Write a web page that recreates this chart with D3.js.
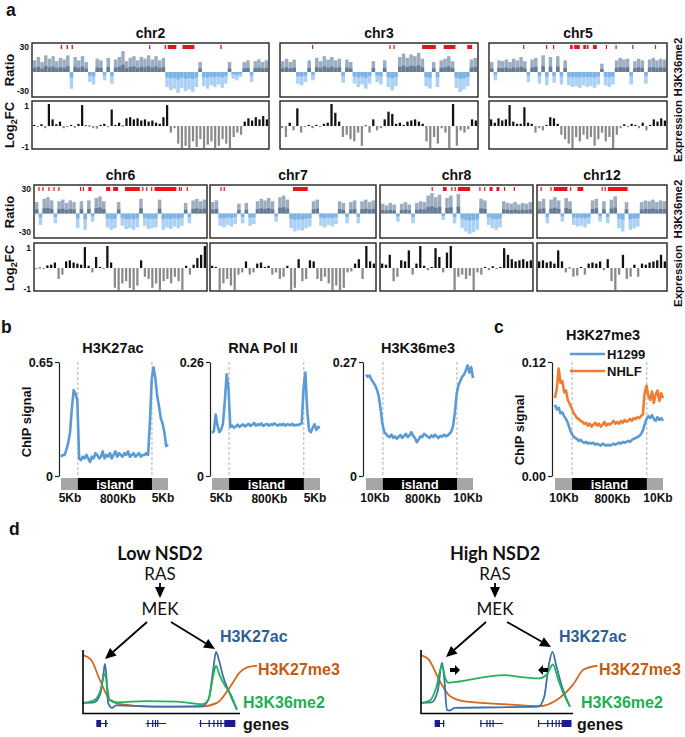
<!DOCTYPE html>
<html><head><meta charset="utf-8">
<script src="https://cdn.jsdelivr.net/npm/d3@7"></script>
<style>body{margin:0;background:#fff} svg{display:block}</style>
</head><body>
<svg id="fig" width="685" height="737"></svg>
<script>
// ---------------- DATA: panel a ----------------
const chromosomes = ["chr2","chr3","chr5","chr6","chr7","chr8","chr12"];
const ratioTicks = ["30","-30"];
const exprTicks = ["1","-1"];

const ratioChr2 = [14,18,12,20,16,19,13,17,15,20,-20,18,14,19,12,-12,-15,16,14,-10,17,-14,15,18,25,13,17,19,14,18,16,20,15,19,14,17,-18,-22,-20,-25,-19,-23,-21,-24,-18,12,-17,-20,-16,-18,-15,-19,-14,12,-8,-10,-6,12,14,-12,13,15,12,14];
const exprChr2 = [0.05,-0.05,0.08,-0.1,1.0,0.3,0.08,0.2,-0.1,-0.05,0.05,-0.08,0.1,0.95,0.03,0.02,-0.1,-0.12,0.05,0.1,-0.05,0.75,0.05,0.15,0.02,0.35,0.4,0.3,0.35,0.25,0.3,0.2,0.25,0.15,0.1,0.4,0.95,-0.3,-0.1,-0.8,-1,-0.9,-1,-0.7,-0.95,-0.6,-1,-0.85,-0.7,-1,-0.9,-0.6,-0.8,-1,-0.5,-0.3,-0.4,0.2,0.35,0.25,0.4,0.3,0.45,0.3];
const redChr2 = [[0.118,0.124],[0.143,0.149],[0.164,0.17],[0.494,0.499],[0.56,0.566],[0.573,0.61],[0.636,0.687],[0.797,0.803]];

const ratioChr3 = [13,16,12,15,-14,-16,-12,14,-10,17,13,19,15,18,14,16,-13,15,12,-14,-18,-15,-20,-14,13,-12,-15,14,-18,-22,-17,18,22,17,21,19,23,16,-17,-20,12,-18,14,16,19,13,-19,-24,-21,-17,15,17];
const exprChr3 = [-0.1,-0.5,0.15,-0.2,0.8,-0.3,-0.05,0.05,-0.1,0.05,-0.05,0.1,0.15,1.0,0.6,0.2,-0.5,-0.4,-0.6,-0.7,-0.3,-0.9,0.03,-0.3,0.3,-0.2,-0.1,0.3,0.65,0.55,0.1,0.15,0.05,0.2,0.25,0.3,0.2,0.1,-0.7,-1.0,-0.5,-0.8,-0.1,-0.3,-1.0,1.0,-0.9,-0.2,-0.3,-0.15,0.3,0.25];
const redChr3 = [[0.158,0.164],[0.553,0.558],[0.574,0.579],[0.72,0.79],[0.83,0.89],[0.95,0.975]];

const ratioChr5 = [12,-10,14,13,15,12,16,14,18,13,-12,15,17,-14,20,-16,18,-13,19,-15,14,-16,-18,-17,-19,-16,-18,-17,-19,-15,10,-16,-18,-15,14,17,15,16,-15,13,16,14,-14,15,17,14,16,15];
const exprChr5 = [0.3,0.15,0.35,0.25,0.3,0.95,0.2,0.1,0.1,0.85,0.15,0.1,-0.3,-0.1,-0.2,0.05,0.4,0.35,0.1,-0.4,-0.6,-0.8,-1.0,-0.5,-0.7,-0.4,-0.6,-0.5,-0.9,-0.6,-0.3,-0.7,-0.5,-1.0,-0.4,-0.1,0.08,-0.05,0.1,0.05,-0.1,0.15,-0.2,0.05,0.3,0.2,0.35,0.25];
const redChr5 = [[0.188,0.194],[0.318,0.324],[0.358,0.364],[0.455,0.47],[0.478,0.51],[0.53,0.545],[0.55,0.56],[0.585,0.607],[0.658,0.664],[0.713,0.719],[0.808,0.814],[0.937,0.943]];

const ratioChr6 = [14,-14,18,20,16,-12,15,17,13,16,14,-18,15,-20,16,-10,19,21,15,-17,-20,-18,14,-15,-19,-18,-20,-17,18,-15,-19,-18,-17,17,-20,-17,-19,-16,-18,-15,13,-12,16,18,15,17];
const exprChr6 = [-0.05,0.02,-0.05,0.12,0.15,0.25,-0.5,-0.3,0.3,0.35,0.25,0.2,0.15,0.95,0.1,-0.2,0.5,0.05,-0.05,1.0,0.25,-0.9,-1.0,-0.7,-0.6,-0.9,-1.0,-0.8,0.35,-0.4,-0.5,-0.9,-0.7,-1.0,-0.6,-0.5,-0.7,-0.4,-0.6,-1.0,0.1,-0.3,0.15,0.45,0.6,1.0];
const redChr6 = [[0.02,0.026],[0.043,0.049],[0.078,0.084],[0.108,0.114],[0.136,0.142],[0.263,0.269],[0.28,0.286],[0.312,0.33],[0.416,0.44],[0.457,0.486],[0.526,0.613],[0.627,0.633],[0.65,0.656],[0.679,0.685],[0.699,0.827],[0.841,0.847],[0.852,0.858],[0.887,0.893]];

const ratioChr7 = [14,16,-15,-17,-14,-16,-13,12,-12,13,-15,-13,15,18,16,19,15,-10,20,22,17,-18,-22,-20,-21,-18,-16,15,17,-15,-17,-14,-16,-13,15,13,-12,14,16,-12,15,17,14,16];
const exprChr7 = [0.1,0.05,-1.0,-0.7,-0.5,-0.8,-1.0,-0.3,-0.2,0.3,-0.3,-0.2,0.2,0.25,0.05,0.1,-0.3,-0.2,-0.5,-0.4,0.1,-1.0,-0.9,0.4,-0.6,-0.5,0.35,0.3,-0.5,-0.6,-0.4,-0.7,-1.0,-0.8,-1.0,-0.9,-0.2,-0.15,0.2,0.4,-0.5,1.0,0.3,0.2];
const redChr7 = [[0.057,0.063],[0.077,0.083],[0.5,0.59]];

const ratioChr8 = [12,10,13,11,-10,12,14,11,-12,13,15,14,22,25,20,23,-8,19,22,-12,24,-18,-22,-25,-23,-20,18,16,-14,-18,-20,-17,15,13,12,14,11,13,12,14];
const exprChr8 = [0.2,0.15,0.6,-0.6,-0.4,0.35,0.3,0.8,-0.3,0.2,1.0,0.1,-0.1,0.05,0.9,0.5,-0.2,0.7,1.0,-1.0,-0.4,-0.3,-0.5,-0.35,-1.0,-0.2,-0.3,0.05,-0.1,0.08,-0.05,0.05,0.9,0.6,0.4,0.3,0.35,0.4,0.3,0.35];
const redChr8 = [[0.335,0.341],[0.41,0.435],[0.465,0.471],[0.487,0.493],[0.51,0.59],[0.651,0.657],[0.683,0.689],[0.719,0.739],[0.765,0.784],[0.814,0.82],[0.879,0.885]];

const ratioChr12 = [15,18,-12,17,20,16,-10,19,15,-14,-16,-15,-17,-13,16,18,-10,15,-12,17,21,-18,-22,14,-20,-18,-16,14,16,15,17,14,16,15];
const exprChr12 = [0.3,0.35,0.25,0.3,0.2,0.8,0.3,-0.2,0.02,-0.4,-0.35,0.05,-0.3,0.2,0.25,0.2,0.3,-0.1,0.4,-0.6,-1.0,-0.3,0.6,-0.5,-0.4,0.15,-0.4,0.2,0.15,0.25,0.3,0.35,0.6,0.3];
const redChr12 = [[0.02,0.026],[0.097,0.103],[0.123,0.23],[0.251,0.257],[0.308,0.354],[0.497,0.503],[0.52,0.526],[0.546,0.7]];

// ---------------- DATA: panels b, c ----------------
const chipTitles = ["H3K27ac","RNA Pol II","H3K36me3","H3K27me3"];
const chipMax = [0.65, 0.26, 0.27, 0.12];
const chipTopLabels = ["0.65","0.26","0.27","0.12"];
const chipBottomLabels = ["0","0","0","0.00"];
const flankLabelsB1 = ["5Kb","800Kb","5Kb"];
const flankLabelsB3 = ["10Kb","800Kb","10Kb"];
const legendC = ["H1299","NHLF"];

const h3k27ac = [0.11,0.12,0.12,0.15,0.19,0.25,0.39,0.49,0.47,0.43,
  0.10,0.09,0.11,0.10,0.12,0.10,0.08,0.11,0.10,0.13,
  0.12,0.10,0.11,0.14,0.10,0.12,0.11,0.13,0.10,0.12,
  0.14,0.11,0.13,0.12,0.11,0.13,0.12,0.14,0.11,0.12,
  0.13,0.11,0.12,0.13,0.11,0.12,0.12,0.13,0.12,0.30,
  0.55,0.62,0.56,0.46,0.40,0.33,0.30,0.25,0.17,0.18];
const polII = [0.098,0.102,0.14,0.115,0.10,0.105,0.12,0.17,0.232,0.20,
  0.112,0.115,0.11,0.113,0.117,0.112,0.115,0.118,0.113,0.116,
  0.119,0.114,0.117,0.121,0.115,0.118,0.116,0.12,0.114,0.117,
  0.119,0.115,0.118,0.116,0.12,0.117,0.115,0.118,0.116,0.119,
  0.115,0.118,0.117,0.116,0.119,0.115,0.117,0.116,0.118,0.12,
  0.2,0.236,0.15,0.105,0.1,0.11,0.118,0.105,0.112,0.11];
const h3k36me3 = [0.24,0.235,0.238,0.228,0.222,0.215,0.205,0.19,0.16,0.125,
  0.105,0.1,0.095,0.092,0.098,0.09,0.094,0.088,0.093,0.097,
  0.09,0.095,0.1,0.092,0.096,0.104,0.095,0.09,0.08,0.086,
  0.094,0.092,0.1,0.097,0.093,0.09,0.096,0.092,0.098,0.094,
  0.09,0.095,0.093,0.098,0.094,0.096,0.1,0.105,0.118,0.15,
  0.195,0.215,0.225,0.235,0.24,0.25,0.262,0.245,0.258,0.232];
const h1299 = [0.075,0.07,0.072,0.066,0.067,0.063,0.06,0.056,0.05,0.045,
  0.042,0.04,0.039,0.037,0.038,0.036,0.035,0.036,0.034,0.035,
  0.034,0.035,0.033,0.034,0.033,0.032,0.034,0.033,0.032,0.033,
  0.032,0.033,0.034,0.033,0.034,0.035,0.034,0.036,0.035,0.036,
  0.037,0.036,0.038,0.039,0.04,0.041,0.042,0.044,0.048,0.054,
  0.06,0.063,0.061,0.064,0.06,0.058,0.062,0.059,0.061,0.058];
const nhlf = [0.082,0.092,0.113,0.098,0.1,0.088,0.09,0.08,0.076,0.072,
  0.067,0.064,0.061,0.06,0.058,0.057,0.055,0.056,0.053,0.055,
  0.052,0.054,0.056,0.053,0.055,0.052,0.054,0.057,0.053,0.055,
  0.054,0.056,0.058,0.055,0.057,0.055,0.058,0.056,0.059,0.057,
  0.058,0.06,0.058,0.061,0.06,0.062,0.061,0.063,0.065,0.088,
  0.095,0.084,0.08,0.089,0.077,0.086,0.09,0.079,0.087,0.082];
const islandSpan = [0.158, 0.85];

// ---------------- DATA: panel d (schematic) ----------------
const schemeTitles = ["Low NSD2","High NSD2"];
const lowK27me3 = [[0,0.92],[0.05,0.85],[0.108,0.52],[0.172,0.21],[0.24,0.14],[0.45,0.1],[0.745,0.1],[0.854,0.16],[0.936,0.41],[1.0,0.65],[1.05,0.73],[1.108,0.75]];
const lowK27ac = [[0,0.16],[0.07,0.17],[0.11,0.3],[0.13,0.62],[0.14,0.78],[0.15,0.55],[0.16,0.16],[0.185,0.08],[0.21,0.12],[0.5,0.1],[0.76,0.11],[0.8,0.22],[0.83,0.7],[0.847,0.97],[0.865,0.85],[0.89,0.6],[0.94,0.28],[0.98,0.05]];
const lowK36me2 = [[0,0.16],[0.07,0.2],[0.11,0.35],[0.14,0.62],[0.155,0.4],[0.17,0.2],[0.22,0.17],[0.4,0.19],[0.6,0.18],[0.76,0.14],[0.8,0.22],[0.83,0.6],[0.847,0.75],[0.87,0.6],[0.9,0.45],[0.94,0.3],[0.98,0.06]];
const highK27me3 = [[0,0.92],[0.05,0.85],[0.125,0.5],[0.19,0.27],[0.3,0.18],[0.55,0.14],[0.78,0.11],[0.9,0.22],[1.0,0.45],[1.07,0.69],[1.16,0.75]];
const highK27ac = [[0,0.16],[0.07,0.17],[0.11,0.35],[0.138,0.8],[0.155,0.5],[0.17,0.05],[0.19,0.04],[0.22,0.08],[0.5,0.09],[0.77,0.1],[0.81,0.25],[0.84,0.75],[0.865,0.97],[0.89,0.75],[0.93,0.4],[0.98,0.1]];
const highK36me2 = [[0,0.16],[0.06,0.2],[0.1,0.4],[0.138,0.75],[0.16,0.55],[0.18,0.48],[0.25,0.5],[0.45,0.58],[0.55,0.6],[0.7,0.56],[0.78,0.55],[0.83,0.62],[0.868,0.77],[0.9,0.55],[0.93,0.35],[0.98,0.1]];
const lowIntrons = [[0.085,0.16],[0.4,0.53],[0.74,0.97]];
const lowExons = [[0.085,0.115],[0.14,0.15],[0.41,0.416],[0.44,0.448],[0.458,0.464],[0.472,0.478],[0.745,0.752],[0.8,0.808],[0.83,0.836],[0.855,0.862],[0.875,0.882],[0.9,0.97]];
const highIntrons = [[0.09,0.155],[0.39,0.54],[0.77,0.99]];
const highExons = [[0.09,0.125],[0.145,0.152],[0.39,0.396],[0.43,0.437],[0.45,0.456],[0.47,0.476],[0.77,0.777],[0.83,0.838],[0.86,0.866],[0.885,0.892],[0.905,0.912],[0.925,0.99]];

// ---------------- DRAWING ----------------
const svg = d3.select("#fig");
const F = "'Liberation Sans', Arial, Helvetica, sans-serif";
const FC = "Lato, 'Open Sans', sans-serif";

function txt(g, t, x, y, o = {}) {
  const e = g.append("text").attr("x", x).attr("y", y).text(t)
    .attr("font-family", o.family || F).attr("font-size", o.size || 12)
    .attr("font-weight", o.weight || "bold").attr("fill", o.fill || "#111")
    .attr("text-anchor", o.anchor || "start");
  if (o.rotate) e.attr("transform", `rotate(${o.rotate},${x},${y})`);
  return e;
}

// panel letters
[["a",6,16],["b",1,333],["c",494,333],["d",9,535]].forEach(([t,x,y]) =>
  txt(svg, t, x, y, {size: 17.5}));

// ----- panel a -----
const rows = [
  {rTop: 43, rBot: 97, eTop: 101, eBot: 149, titleY: 38, labX: 14, rLab: 70, eLab: 125, rRight: 67, eRight: 131},
  {rTop: 185, rBot: 238, eTop: 243, eBot: 291, titleY: 180, labX: 14, rLab: 212, eLab: 268, rRight: 209, eRight: 276}
];
const chromData = {
  chr2: [ratioChr2, exprChr2, redChr2], chr3: [ratioChr3, exprChr3, redChr3],
  chr5: [ratioChr5, exprChr5, redChr5], chr6: [ratioChr6, exprChr6, redChr6],
  chr7: [ratioChr7, exprChr7, redChr7], chr8: [ratioChr8, exprChr8, redChr8],
  chr12: [ratioChr12, exprChr12, redChr12]
};
const chromLayout = [
  {chr: "chr2", row: 0, x0: 32, x1: 269},
  {chr: "chr3", row: 0, x0: 280, x1: 478},
  {chr: "chr5", row: 0, x0: 489, x1: 667},
  {chr: "chr6", row: 1, x0: 34, x1: 207},
  {chr: "chr7", row: 1, x0: 210, x1: 376},
  {chr: "chr8", row: 1, x0: 380, x1: 533},
  {chr: "chr12", row: 1, x0: 537, x1: 667}
];
const gA = svg.append("g");
chromLayout.forEach((c, ci) => {
  const r = rows[c.row];
  const [ratio, expr, red] = chromData[c.chr];
  const xb = d3.scaleBand().domain(d3.range(ratio.length)).range([c.x0 + 1, c.x1 - 1]).paddingInner(0.06);
  const xe = d3.scaleBand().domain(d3.range(expr.length)).range([c.x0 + 1, c.x1 - 1]).paddingInner(0.4);
  const xf = d3.scaleLinear().domain([0, 1]).range([c.x0 + 1, c.x1 - 1]);
  const yR = d3.scaleLinear().domain([-30, 30]).range([r.rBot, r.rTop + 4]);
  const yE = d3.scaleLinear().domain([-1, 1]).range([r.eBot - 1, r.eTop + 3]);
  const g = gA.append("g");
  // ratio bars
  g.selectAll(".rb").data(ratio).join("rect")
    .attr("x", (d, i) => xb(i)).attr("width", xb.bandwidth())
    .attr("y", d => d > 0 ? yR(d) : yR(0)).attr("height", d => Math.abs(yR(d) - yR(0)))
    .attr("fill", d => d > 0 ? "#9cadc0" : "#abd1f4");
  g.selectAll(".rd").data(ratio).join("rect")
    .attr("x", (d, i) => xb(i)).attr("width", xb.bandwidth())
    .attr("y", d => d > 0 ? yR(d * 0.35) : yR(0)).attr("height", d => Math.abs(yR(d * 0.35) - yR(0)))
    .attr("fill", d => d > 0 ? "#667c94" : "#7cb3e4");
  // red marks
  g.selectAll(".red").data(red).join("rect")
    .attr("x", d => xf(d[0])).attr("width", d => Math.max(1.2, xf(d[1]) - xf(d[0])))
    .attr("y", r.rTop + 2).attr("height", 4).attr("fill", "#e8141c");
  // expression bars
  g.selectAll(".eb").data(expr).join("rect")
    .attr("x", (d, i) => xe(i)).attr("width", xe.bandwidth())
    .attr("y", d => d > 0 ? yE(d) : yE(0)).attr("height", d => Math.max(0.8, Math.abs(yE(d) - yE(0))))
    .attr("fill", d => d > 0 ? "#111" : "#8a8a8a");
  // boxes
  g.append("rect").attr("x", c.x0).attr("y", r.rTop).attr("width", c.x1 - c.x0).attr("height", r.rBot - r.rTop)
    .attr("fill", "none").attr("stroke", "#222").attr("stroke-width", 1.4);
  g.append("rect").attr("x", c.x0).attr("y", r.eTop).attr("width", c.x1 - c.x0).attr("height", r.eBot - r.eTop)
    .attr("fill", "none").attr("stroke", "#222").attr("stroke-width", 1.4);
  txt(g, c.chr, (c.x0 + c.x1) / 2, r.titleY, {size: 14, anchor: "middle"});
  if (c.x0 < 40) {
    txt(g, ratioTicks[0], c.x0 - 3, r.rTop + 7, {size: 8.5, anchor: "end"});
    txt(g, ratioTicks[1], c.x0 - 3, r.rBot - 3, {size: 8.5, anchor: "end"});
    txt(g, exprTicks[0], c.x0 - 3, r.eTop + 8, {size: 8.5, anchor: "end"});
    txt(g, exprTicks[1], c.x0 - 3, r.eBot + 1, {size: 8.5, anchor: "end"});
    txt(g, "Ratio", r.labX, r.rLab, {size: 13, anchor: "middle", rotate: -90});
    const lg = txt(g, "Log", r.labX, r.eLab, {size: 13, anchor: "middle", rotate: -90});
    lg.append("tspan").text("2").attr("font-size", 9).attr("dy", 3);
    lg.append("tspan").text("FC").attr("dy", -3);
  }
  if (c.x1 > 660) {
    txt(g, "H3K36me2", 682, r.rRight, {size: 11.5, anchor: "middle", rotate: -90});
    txt(g, "Expression", 682, r.eRight, {size: 11.5, anchor: "middle", rotate: -90});
  }
});

// ----- panels b & c -----
const chipLayout = [
  {axisX: 59, pl: 61, pr: 168, titleX: 113, series: [[h3k27ac, "#5b9bd5"]], flank: flankLabelsB1},
  {axisX: 210, pl: 212, pr: 320, titleX: 263, series: [[polII, "#5b9bd5"]], flank: flankLabelsB1},
  {axisX: 363, pl: 366, pr: 473, titleX: 418, series: [[h3k36me3, "#5b9bd5"]], flank: flankLabelsB3},
  {axisX: 552, pl: 555, pr: 663, titleX: 603, series: [[nhlf, "#ed7d31"], [h1299, "#5b9bd5"]], flank: flankLabelsB3}
];
const yT = 362, yB = 476;
chipLayout.forEach((p, pi) => {
  const g = svg.append("g");
  const y = d3.scaleLinear().domain([0, chipMax[pi]]).range([yB, yT]);
  const xf = d3.scaleLinear().domain([0, 1]).range([p.pl, p.pr]);
  const ax = g.append("g").attr("transform", `translate(${p.axisX},0)`)
    .call(d3.axisLeft(y).tickValues([0, chipMax[pi]]).tickSize(4).tickSizeOuter(0)
      .tickFormat((d, i) => i === 0 ? chipBottomLabels[pi] : chipTopLabels[pi]));
  ax.select(".domain").attr("stroke", "#222").attr("stroke-width", 1.2);
  ax.selectAll(".tick line").attr("stroke", "#222").attr("stroke-width", 1.2);
  ax.selectAll(".tick text").attr("font-family", F).attr("font-weight", "bold").attr("font-size", 12.5).attr("fill", "#111").attr("x", -6);
  // dashed island boundaries
  islandSpan.forEach(f => g.append("line").attr("x1", xf(f)).attr("x2", xf(f)).attr("y1", yT).attr("y2", yB)
    .attr("stroke", "#9a9a9a").attr("stroke-width", 0.8).attr("stroke-dasharray", "3,2"));
  // lines
  p.series.forEach(([vals, col]) => {
    const x = d3.scaleLinear().domain([0, vals.length - 1]).range([p.pl, p.pr]);
    g.append("path").datum(vals)
      .attr("d", d3.line().x((d, i) => x(i)).y(d => y(d)))
      .attr("fill", "none").attr("stroke", col).attr("stroke-width", 2.6).attr("stroke-linejoin", "round");
  });
  // bar
  g.append("rect").attr("x", p.pl).attr("y", 478).attr("width", p.pr - p.pl).attr("height", 12).attr("fill", "#a6a6a6");
  g.append("rect").attr("x", xf(islandSpan[0])).attr("y", 478).attr("width", xf(islandSpan[1]) - xf(islandSpan[0])).attr("height", 12).attr("fill", "#000");
  txt(g, "island", (xf(islandSpan[0]) + xf(islandSpan[1])) / 2, 488.5, {size: 13, anchor: "middle", fill: "#fff"});
  txt(g, p.flank[0], p.pl + 9, 502, {size: 12, anchor: "middle"});
  txt(g, p.flank[1], (xf(islandSpan[0]) + xf(islandSpan[1])) / 2 + 3, 503, {size: 12, anchor: "middle"});
  txt(g, p.flank[2], p.pr - 5, 502, {size: 12, anchor: "middle"});
  txt(g, chipTitles[pi], p.titleX, pi === 3 ? 340 : 353, {size: 14.5, anchor: "middle"});
});
txt(svg, "ChIP signal", 31, 422, {size: 13, anchor: "middle", rotate: -90});
txt(svg, "ChIP signal", 524, 430, {size: 13, anchor: "middle", rotate: -90});
// legend c
[["#5b9bd5", 354], ["#ed7d31", 371]].forEach(([col, ly], i) => {
  svg.append("line").attr("x1", 570).attr("x2", 605).attr("y1", ly).attr("y2", ly).attr("stroke", col).attr("stroke-width", 2.6);
  txt(svg, legendC[i], 607, ly + 4.5, {size: 13});
});

// ----- panel d -----
function arrow(g, x1, y1, x2, y2) {
  const a = Math.atan2(y2 - y1, x2 - x1), L = 11, W = 5;
  const bx = x2 - L * Math.cos(a), by = y2 - L * Math.sin(a);
  g.append("line").attr("x1", x1).attr("y1", y1).attr("x2", bx).attr("y2", by).attr("stroke", "#000").attr("stroke-width", 1.8);
  g.append("path").attr("d", `M${x2},${y2}L${bx + W * Math.sin(a)},${by - W * Math.cos(a)}L${bx - W * Math.sin(a)},${by + W * Math.cos(a)}Z`).attr("fill", "#000");
}
const schemes = [
  {x0: 83, x1: 240, cx: 160, curves: [lowK27me3, lowK27ac, lowK36me2], introns: lowIntrons, exons: lowExons,
   arrows: [[147, 622, 105, 659], [171, 622, 215, 649]], labK27ac: 220, labK27me3: 258, labK36me2: 243, labGenes: 243, fat: false},
  {x0: 421, x1: 573, cx: 495, curves: [highK27me3, highK27ac, highK36me2], introns: highIntrons, exons: highExons,
   arrows: [[486, 622, 446, 657], [507, 622, 551, 647]], labK27ac: 559, labK27me3: 599, labK36me2: 581, labGenes: 577, fat: true}
];
const curveCols = ["#d2691e", "#3f6fa8", "#22b35a"];
schemes.forEach((s, si) => {
  const g = svg.append("g");
  const x = d3.scaleLinear().domain([0, 1]).range([s.x0, s.x1]);
  const y = d3.scaleLinear().domain([0, 1]).range([713, 650]);
  txt(g, schemeTitles[si], s.cx, 560, {size: 18, anchor: "middle", family: FC});
  txt(g, "RAS", s.cx, 580, {size: 17, anchor: "middle", family: FC, weight: "normal"});
  arrow(g, s.cx, 583, s.cx, 598);
  txt(g, "MEK", s.cx, 615, {size: 17, anchor: "middle", family: FC, weight: "normal"});
  s.arrows.forEach(a => arrow(g, ...a));
  s.curves.forEach((pts, ci) => {
    g.append("path").datum(pts)
      .attr("d", d3.line().x(d => x(d[0])).y(d => y(d[1])).curve(d3.curveMonotoneX))
      .attr("fill", "none").attr("stroke", curveCols[ci]).attr("stroke-width", 1.8);
  });
  g.append("path").attr("d", `M${s.x0},650V${713.5}H${s.x1}`).attr("fill", "none").attr("stroke", "#000").attr("stroke-width", 1.6);
  // genes
  s.introns.forEach(d => g.append("line").attr("x1", x(d[0])).attr("x2", x(d[1])).attr("y1", 723.5).attr("y2", 723.5).attr("stroke", "#1b1b8e").attr("stroke-width", 1));
  s.exons.forEach(d => g.append("rect").attr("x", x(d[0])).attr("width", Math.max(1.2, x(d[1]) - x(d[0]))).attr("y", 720).attr("height", 7).attr("fill", "#1b1b8e"));
  txt(g, "H3K27ac", s.labK27ac, 642, {size: 16, fill: "#2f5f92"});
  txt(g, "H3K27me3", s.labK27me3, 675, {size: 16, fill: "#c55a11"});
  txt(g, "H3K36me2", s.labK36me2, 708, {size: 16, fill: "#1fae55"});
  txt(g, "genes", s.labGenes, 730, {size: 16});
  if (s.fat) {
    [[455, 670, 1], [543, 670, -1]].forEach(([cx, cy, dir]) => {
      g.append("path").attr("d", `M${cx - 5 * dir},${cy - 2}L${cx},${cy - 2}L${cx},${cy - 5}L${cx + 5 * dir},${cy}L${cx},${cy + 5}L${cx},${cy + 2}L${cx - 5 * dir},${cy + 2}Z`).attr("fill", "#000");
    });
  }
});
</script>
</body></html>
